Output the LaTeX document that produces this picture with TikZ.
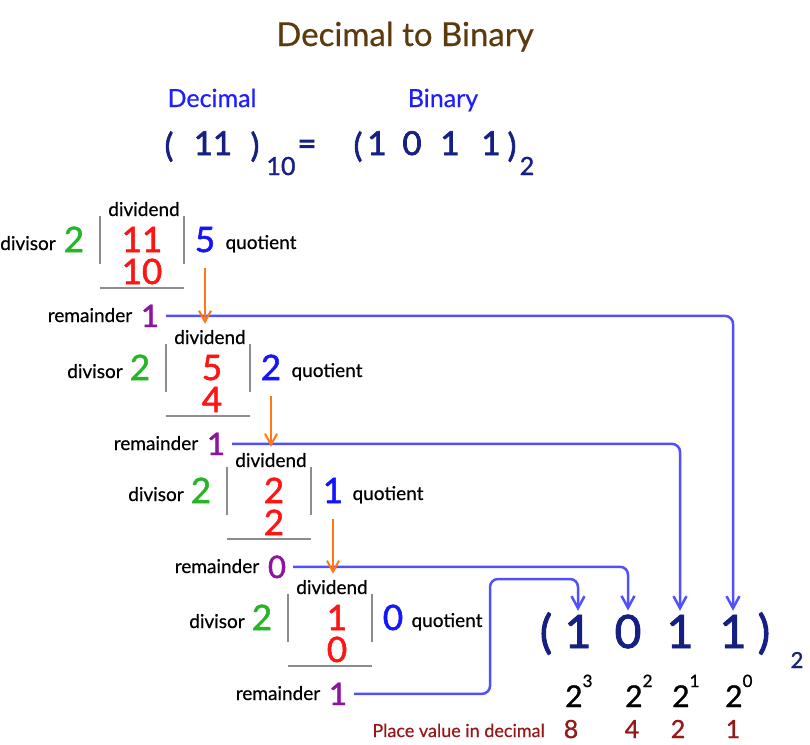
\documentclass[tikz,border=0pt]{standalone}
\usepackage{fontspec}
\setmainfont{Lato}[FakeBold=0.5]
\usetikzlibrary{arrows.meta}

\definecolor{titlebrown}{RGB}{92,58,14}
\definecolor{headblue}{RGB}{30,30,255}
\definecolor{navy}{RGB}{22,32,130}
\definecolor{dvsgreen}{RGB}{40,180,40}
\definecolor{dvdred}{RGB}{255,20,20}
\definecolor{quotblue}{RGB}{20,20,255}
\definecolor{rempurple}{RGB}{140,20,160}
\definecolor{flowor}{RGB}{255,120,20}
\definecolor{linkblue}{RGB}{80,80,255}
\definecolor{placered}{RGB}{150,25,25}
\definecolor{bargrey}{RGB}{140,140,140}

\tikzset{
  txt/.style={inner sep=0pt, text depth=0pt, anchor=base},
  lbl/.style={txt, font=\fontsize{19}{20}\selectfont},
  dgt/.style={txt, font=\fontsize{35}{36}\selectfont\addfontfeatures{FakeBold=1.5}},
  rdg/.style={txt, font=\fontsize{31}{32}\selectfont\addfontfeatures{FakeBold=1.5}, text=rempurple},
  eqn/.style={txt, font=\fontsize{33}{34}\selectfont\addfontfeatures{FakeBold=2}, text=navy},
  eqsub/.style={txt, font=\fontsize{25}{26}\selectfont\addfontfeatures{FakeBold=1.5}, text=navy},
  res/.style={txt, font=\fontsize{46}{48}\selectfont\addfontfeatures{FakeBold=2}, text=navy},
  pow/.style={txt, anchor=base west, font=\fontsize{30}{32}\selectfont\addfontfeatures{FakeBold=1.2}},
  bar/.style={draw=bargrey, line width=2pt},
  link/.style={draw=linkblue, line width=2.5pt, rounded corners=8pt,
    -{Straight Barb[length=12pt,width=13pt]}, shorten >=4pt},
  flow/.style={draw=flowor, line width=2pt,
    -{Straight Barb[length=11pt,width=12pt]}, shorten >=6pt},
}

\newcommand{\pw}[1]{2\raisebox{20pt}{\fontsize{17}{18}\selectfont #1}}

\begin{document}
\begin{tikzpicture}[x=1pt,y=-1pt]
  \useasboundingbox (0,0) rectangle (810,744);

  % Titulo
  \node[txt, font=\fontsize{33}{35}\selectfont, text=titlebrown] (title) at (405,46) {Decimal to Binary};
  \node[txt, font=\fontsize{25}{27}\selectfont, text=headblue] (hdec) at (212,107) {Decimal};
  \node[txt, font=\fontsize{25}{27}\selectfont, text=headblue] (hbin) at (443,107) {Binary};

  % Igualdad
  \node[eqn] (dl) at (169,157) {(};
  \node[eqn] (dn) at (213,155) {11};
  \node[eqn] (dr) at (255,157) {)};
  \node[eqsub] (ds) at (281,175) {10};
  \node[eqn] (eq) at (307,155) {=};
  \node[eqn] (bl) at (358,157) {(};
  \node[eqn] (e3) at (377,155) {1};
  \node[eqn] (e2) at (412,155) {0};
  \node[eqn] (e1) at (450,155) {1};
  \node[eqn] (e0) at (491,155) {1};
  \node[eqn] (br) at (512,157) {)};
  \node[eqsub] (bs) at (527,175) {2};

  % Division 1
  \begin{scope}[shift={(100,240)}]
    \node[lbl] (dvs1) at (-72,10) {divisor};
    \node[dgt, text=dvsgreen] (d1) at (-26,12) {2};
    \node[lbl] (dvd1) at (44,-24) {dividend};
    \node[dgt, text=dvdred] (n1) at (42,12) {11};
    \node[dgt, text=dvdred] (m1) at (42,44) {10};
    \draw[bar] (0,-24) -- (0,24);
    \draw[bar] (84,-24) -- (84,24);
    \draw[bar] (0,48) -- (84,48);
    \node[dgt, text=quotblue] (q1) at (105,12) {5};
    \node[lbl] (ql1) at (161,9) {quotient};
    \node[lbl] (rl1) at (-10,82) {remainder};
    \node[rdg] (r1) at (50,87) {1};
  \end{scope}

  % Division 2
  \begin{scope}[shift={(166,368)}]
    \node[lbl] (dvs2) at (-71,10) {divisor};
    \node[dgt, text=dvsgreen] (d2) at (-26,12) {2};
    \node[lbl] (dvd2) at (44,-24) {dividend};
    \node[dgt, text=dvdred] (n2) at (46,12) {5};
    \node[dgt, text=dvdred] (m2) at (46,44) {4};
    \draw[bar] (0,-24) -- (0,24);
    \draw[bar] (84,-24) -- (84,24);
    \draw[bar] (0,48) -- (84,48);
    \node[dgt, text=quotblue] (q2) at (105,12) {2};
    \node[lbl] (ql2) at (161,9) {quotient};
    \node[lbl] (rl2) at (-10,82) {remainder};
    \node[rdg] (r2) at (50,87) {1};
  \end{scope}

  % Division 3
  \begin{scope}[shift={(227,491)}]
    \node[lbl] (dvs3) at (-71,10) {divisor};
    \node[dgt, text=dvsgreen] (d3) at (-26,12) {2};
    \node[lbl] (dvd3) at (44,-24) {dividend};
    \node[dgt, text=dvdred] (n3) at (47,12) {2};
    \node[dgt, text=dvdred] (m3) at (47,44) {2};
    \draw[bar] (0,-24) -- (0,24);
    \draw[bar] (84,-24) -- (84,24);
    \draw[bar] (0,48) -- (84,48);
    \node[dgt, text=quotblue] (q3) at (106,12) {1};
    \node[lbl] (ql3) at (161,9) {quotient};
    \node[lbl] (rl3) at (-10,82) {remainder};
    \node[rdg] (r3) at (50,87) {0};
  \end{scope}

  % Division 4
  \begin{scope}[shift={(288,618)}]
    \node[lbl] (dvs4) at (-71,10) {divisor};
    \node[dgt, text=dvsgreen] (d4) at (-26,12) {2};
    \node[lbl] (dvd4) at (44,-24) {dividend};
    \node[dgt, text=dvdred] (n4) at (49,12) {1};
    \node[dgt, text=dvdred] (m4) at (49,44) {0};
    \draw[bar] (0,-24) -- (0,24);
    \draw[bar] (84,-24) -- (84,24);
    \draw[bar] (0,48) -- (84,48);
    \node[dgt, text=quotblue] (q4) at (105,12) {0};
    \node[lbl] (ql4) at (159,9) {quotient};
    \node[lbl] (rl4) at (-10,82) {remainder};
    \node[rdg] (r4) at (50,87) {1};
  \end{scope}

  % Resultado
  \node[res] (rl) at (546,648) {(};
  \node[res] (b3) at (578,648) {1};
  \node[res] (b2) at (628,648) {0};
  \node[res] (b1) at (680,648) {1};
  \node[res] (b0) at (733,648) {1};
  \node[res] (rr) at (764,648) {)};
  \node[txt, font=\fontsize{22}{24}\selectfont\addfontfeatures{FakeBold=1.5}, text=navy] (rs) at (797,668) {2};

  \node[pow] (p3) at (565,707) {\pw{3}};
  \node[pow] (p2) at (625,707) {\pw{2}};
  \node[pow] (p1) at (672,707) {\pw{1}};
  \node[pow] (p0) at (725,707) {\pw{0}};

  \node[txt, anchor=base east, font=\fontsize{18}{20}\selectfont, text=placered] (pv) at (545,737) {Place value in decimal};
  \node[txt, font=\fontsize{25}{27}\selectfont\addfontfeatures{FakeBold=1.2}, text=placered] (v3) at (571,738) {8};
  \node[txt, font=\fontsize{25}{27}\selectfont\addfontfeatures{FakeBold=1.2}, text=placered] (v2) at (632,738) {4};
  \node[txt, font=\fontsize{25}{27}\selectfont\addfontfeatures{FakeBold=1.2}, text=placered] (v1) at (678,738) {2};
  \node[txt, font=\fontsize{25}{27}\selectfont\addfontfeatures{FakeBold=1.2}, text=placered] (v0) at (733,738) {1};

  % Restos hacia el resultado
  \coordinate (k4) at (490,579);
  \draw[link] ([xshift=7pt]r1.east) -| (b0.north);
  \draw[link] ([xshift=7pt]r2.east) -| (b1.north);
  \draw[link] ([xshift=7pt]r3.east) -| (b2.north);
  \draw[link] ([xshift=7pt]r4.east) -| (k4) -| (b3.north);

  % Cocientes hacia el siguiente dividendo
  \draw[flow] ([yshift=-16pt]q1.south) -- (q1.south |- dvd2.north);
  \draw[flow] ([yshift=-16pt]q2.south) -- (q2.south |- dvd3.north);
  \draw[flow] ([yshift=-16pt]q3.south) -- (q3.south |- dvd4.north);
\end{tikzpicture}
\end{document}
